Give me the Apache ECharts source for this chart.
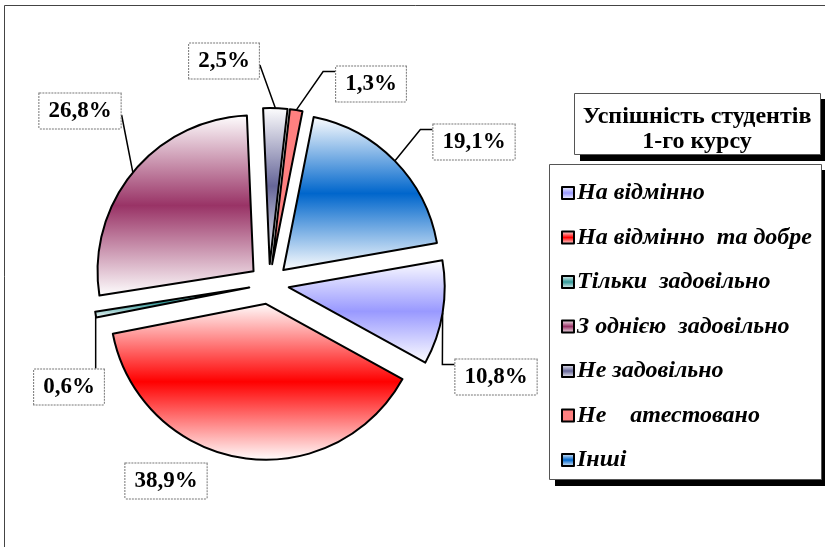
<!DOCTYPE html>
<html>
<head>
<meta charset="utf-8">
<script src="https://cdn.jsdelivr.net/npm/echarts@6/dist/echarts.min.js"></script>
<style>
  html, body { margin: 0; padding: 0; background: #fff; }
  #chart { width: 825px; height: 547px; }
</style>
</head>
<body>
<div id="chart"></div>
<script>
// дані діаграми
const categories = ['На відмінно', 'На відмінно  та добре', 'Тільки  задовільно', 'З однією  задовільно', 'Не задовільно', 'Не    атестовано', 'Інші']
const values = [10.8, 38.9, 0.6, 26.8, 2.5, 1.3, 19.1]
const labels = ['10,8%', '38,9%', '0,6%', '26,8%', '2,5%', '1,3%', '19,1%']
const colors = ['#9999FF', '#FF0000', '#339999', '#993366', '#666699', '#FF8080', '#0066CC']
const gradientFill = [true, true, true, true, true, false, true]

// де стоять підписи (центр рамки) і з якого боку до них іде лінія
const labelPos = [[496, 377], [166, 481], [69, 387], [80, 111], [224, 61], [371, 84], [474, 142]]
const leaderSide = ['left', 'none', 'top', 'right', 'right', 'left', 'left']

const serif = '"Liberation Serif", "Times New Roman", serif'

// розміщення круга
const cx = 269
const cy = 284
const R = 156
const explode = 20
const startAngle = 10

const fill = (c, g) => {
  if (!g) return c
  return new echarts.graphic.LinearGradient(0, 0, 0, 1, [
    { offset: 0, color: '#ffffff' },
    { offset: 0.5, color: c },
    { offset: 1, color: '#ffffff' }
  ])
}

// лінія-виноска: від середини дуги до рамки підпису
const leaderPoints = (i, rect, a) => {
  const p = labelPos[i]
  const left = p[0] - rect.width / 2
  const right = p[0] + rect.width / 2
  const top = p[1] - rect.height / 2
  if (leaderSide[i] === 'left') {
    return [a, [left - 12, top + 6], [left, top + 6]]
  }
  if (leaderSide[i] === 'right') {
    const end = [right, p[1] + 4]
    return [a, [(a[0] + end[0]) / 2, (a[1] + end[1]) / 2], end]
  }
  const end = [a[0], top]
  return [a, [a[0], (a[1] + top) / 2], end]
}

// кожен сектор окремою серією, щоб винести його від центру
const total = values.reduce((a, b) => a + b, 0)
let acc = 0
const series = values.map((v, i) => {
  const mid = (startAngle - (acc + v / 2) / total * 360) * Math.PI / 180
  acc += v
  return {
    type: 'pie',
    center: [cx + explode * Math.cos(mid), cy - explode * Math.sin(mid)],
    radius: R,
    startAngle: startAngle,
    clockwise: true,
    avoidLabelOverlap: false,
    emphasis: { disabled: true },
    label: {
      position: 'outside',
      fontFamily: serif,
      fontWeight: 'bold',
      fontSize: 23,
      color: '#000',
      backgroundColor: '#fff',
      borderColor: '#777',
      borderWidth: 1,
      borderType: [2, 1],
      padding: [7, 9, 5, 9]
    },
    labelLine: {
      length: 10,
      length2: 10,
      lineStyle: { color: '#000', width: 1.5 }
    },
    labelLayout: (params) => {
      const i = params.dataIndex
      const p = labelPos[i]
      const out = { x: p[0], y: p[1], align: 'center', verticalAlign: 'middle' }
      if (params.labelLinePoints && leaderSide[i] !== 'none') {
        out.labelLinePoints = leaderPoints(i, params.labelRect, params.labelLinePoints[0])
      }
      return out
    },
    data: values.map((w, j) => {
      if (j !== i) {
        return {
          name: '',
          value: w,
          itemStyle: { color: 'rgba(0,0,0,0)', borderWidth: 0 },
          label: { show: false },
          labelLine: { show: false }
        }
      }
      return {
        name: categories[j],
        value: w,
        itemStyle: { color: fill(colors[j], gradientFill[j]), borderColor: '#000', borderWidth: 2 },
        label: { show: true, formatter: labels[j] },
        labelLine: { show: leaderSide[j] !== 'none' }
      }
    })
  }
})

const chart = echarts.init(document.getElementById('chart'))

const option = {
  animation: false,
  backgroundColor: '#fff',
  title: {
    text: 'Успішність студентів\n1-го курсу',
    left: 697,
    top: 104,
    textAlign: 'center',
    padding: 0,
    textStyle: {
      fontFamily: serif,
      fontWeight: 'bold',
      fontSize: 24,
      lineHeight: 25,
      color: '#000'
    }
  },
  legend: {
    orient: 'vertical',
    left: 561,
    top: 180,
    padding: 0,
    icon: 'rect',
    itemGap: 18.5,
    itemWidth: 12,
    itemHeight: 12,
    itemStyle: { borderColor: '#000', borderWidth: 2 },
    textStyle: {
      fontFamily: serif,
      fontWeight: 'bold',
      fontStyle: 'italic',
      fontSize: 24,
      lineHeight: 26,
      color: '#000',
      padding: [0, 0, 0, -2]
    },
    data: categories
  },
  graphic: [
    // рамка області
    {
      type: 'rect',
      shape: { x: 4.5, y: 5.5, width: 900, height: 700 },
      style: { fill: 'none', stroke: '#444', lineWidth: 1 },
      silent: true
    },
    // рамка заголовка з тінню
    { type: 'rect', shape: { x: 580, y: 99, width: 246, height: 62 }, style: { fill: '#000' }, silent: true },
    { type: 'rect', shape: { x: 574.5, y: 93.5, width: 246, height: 61 }, style: { fill: '#fff', stroke: '#555', lineWidth: 1 }, silent: true },
    // рамка легенди з тінню
    { type: 'rect', shape: { x: 555, y: 170, width: 272, height: 316 }, style: { fill: '#000' }, silent: true },
    { type: 'rect', shape: { x: 549.5, y: 164.5, width: 272, height: 315 }, style: { fill: '#fff', stroke: '#555', lineWidth: 1 }, silent: true }
  ],
  series: series
}

chart.setOption(option)
</script>
</body>
</html>
